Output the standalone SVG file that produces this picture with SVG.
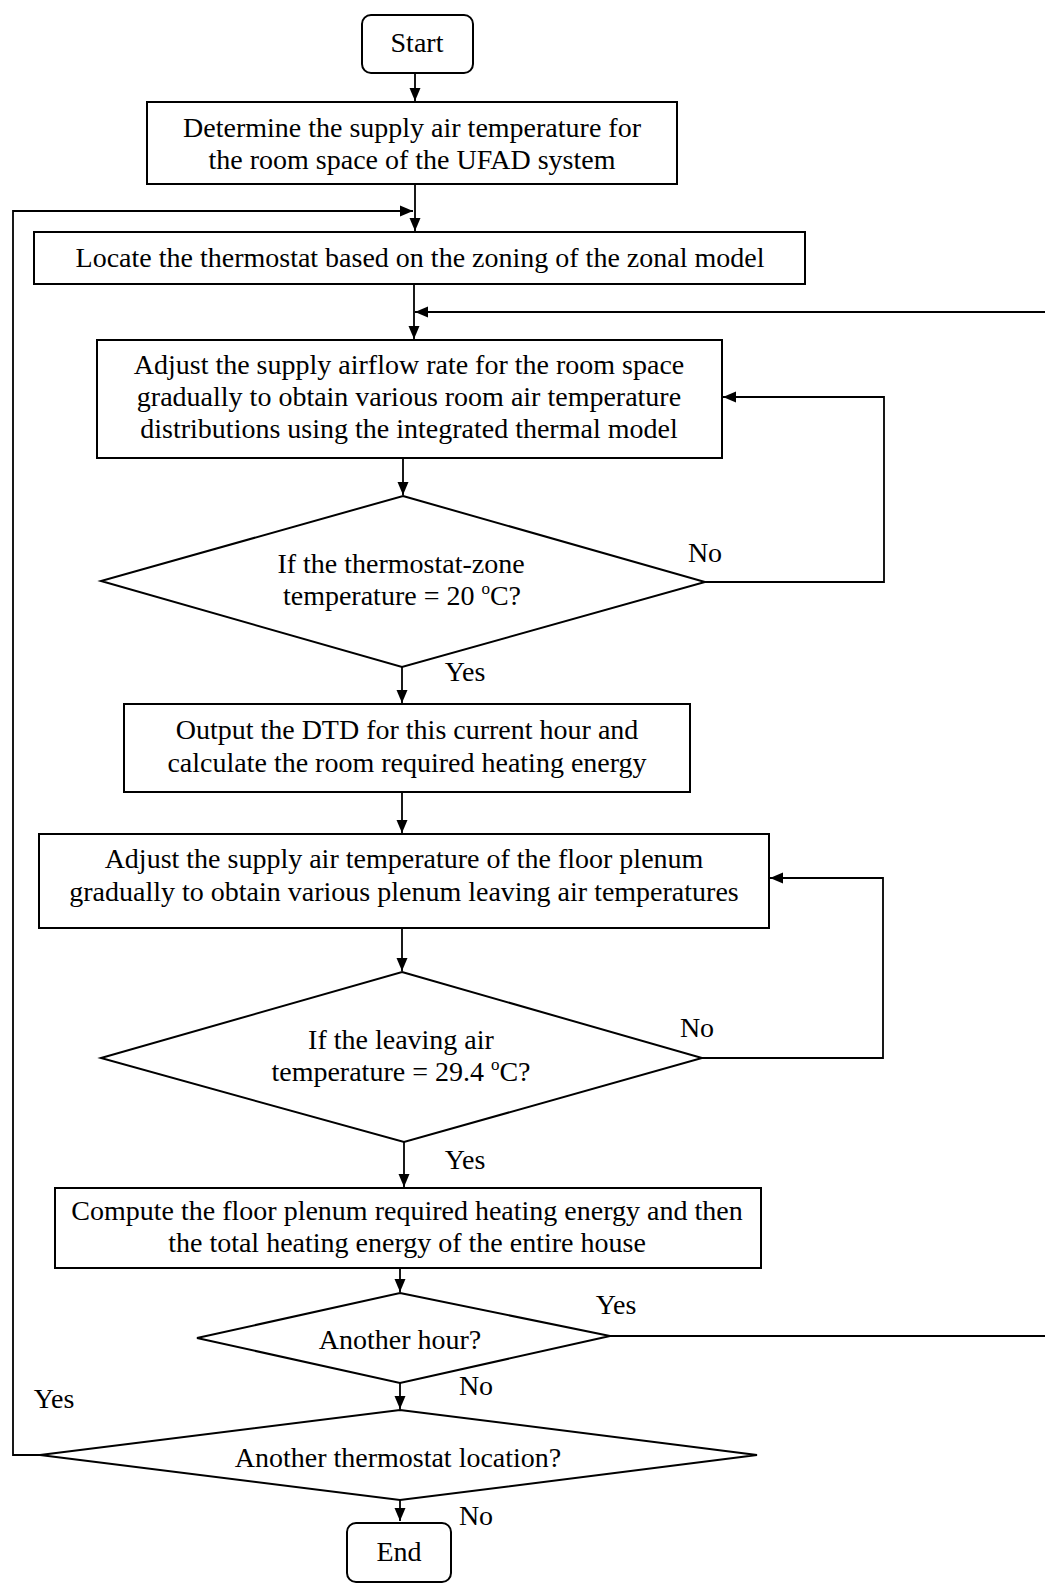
<svg xmlns="http://www.w3.org/2000/svg" width="1045" height="1585" viewBox="0 0 1045 1585">
<style>
.box{fill:#fff;stroke:#000;stroke-width:2}
.ln{fill:none;stroke:#000;stroke-width:1.8}
.t{font-family:"Liberation Serif","Times New Roman",serif;font-size:28px;fill:#000;text-anchor:middle}
.lb{font-family:"Liberation Serif","Times New Roman",serif;font-size:28px;fill:#000;text-anchor:middle}
</style>
<defs>
<marker id="ah" markerUnits="userSpaceOnUse" markerWidth="14" markerHeight="12" refX="13" refY="6" orient="auto">
<path d="M0,0.5 L13,6 L0,11.5 Z" fill="#000"/>
</marker>
</defs>
<rect width="1045" height="1585" fill="#fff"/>
<g id="connectors">
<path class="ln" d="M415 73 V101" marker-end="url(#ah)"/>
<path class="ln" d="M415 184 V231" marker-end="url(#ah)"/>
<path class="ln" d="M40 1455 H13 V211 H413" marker-end="url(#ah)"/>
<path class="ln" d="M414 284 V339" marker-end="url(#ah)"/>
<path class="ln" d="M1045 312 H415" marker-end="url(#ah)"/>
<path class="ln" d="M403 458 V495" marker-end="url(#ah)"/>
<path class="ln" d="M705 582 H884 V397 H723" marker-end="url(#ah)"/>
<path class="ln" d="M402 667 V703" marker-end="url(#ah)"/>
<path class="ln" d="M402 792 V833" marker-end="url(#ah)"/>
<path class="ln" d="M402 928 V971" marker-end="url(#ah)"/>
<path class="ln" d="M702 1058 H883 V878 H770" marker-end="url(#ah)"/>
<path class="ln" d="M404 1142 V1187" marker-end="url(#ah)"/>
<path class="ln" d="M400 1268 V1292" marker-end="url(#ah)"/>
<path class="ln" d="M610 1336 H1045"/>
<path class="ln" d="M400 1382 V1409" marker-end="url(#ah)"/>
<path class="ln" d="M400 1500 V1521" marker-end="url(#ah)"/>
</g>
<g id="start">
<rect class="box" x="362" y="15" width="111" height="58" rx="9"/>
<text class="t" x="417" y="52">Start</text>
</g>
<g id="box1">
<rect class="box" x="147" y="102" width="530" height="82"/>
<text class="t" x="412" y="137">Determine the supply air temperature for</text>
<text class="t" x="412" y="169">the room space of the UFAD system</text>
</g>
<g id="box2">
<rect class="box" x="34" y="232" width="771" height="52"/>
<text class="t" x="420" y="267">Locate the thermostat based on the zoning of the zonal model</text>
</g>
<g id="box3">
<rect class="box" x="97" y="340" width="625" height="118"/>
<text class="t" x="409" y="374">Adjust the supply airflow rate for the room space</text>
<text class="t" x="409" y="406">gradually to obtain various room air temperature</text>
<text class="t" x="409" y="438">distributions using the integrated thermal model</text>
</g>
<g id="decision1">
<polygon class="box" points="403,496 705,582 402,667 101,581"/>
<text class="t" x="401" y="573">If the thermostat-zone</text>
<text class="t" x="402" y="605">temperature = 20 <tspan font-size="17" dy="-11">o</tspan><tspan dy="11">C?</tspan></text>
<text class="lb" x="705" y="562">No</text>
<text class="lb" x="465" y="681">Yes</text>
</g>
<g id="box4">
<rect class="box" x="124" y="704" width="566" height="88"/>
<text class="t" x="407" y="739">Output the DTD for this current hour and</text>
<text class="t" x="407" y="772">calculate the room required heating energy</text>
</g>
<g id="box5">
<rect class="box" x="39" y="834" width="730" height="94"/>
<text class="t" x="404" y="868">Adjust the supply air temperature of the floor plenum</text>
<text class="t" x="404" y="901">gradually to obtain various plenum leaving air temperatures</text>
</g>
<g id="decision2">
<polygon class="box" points="402,972 702,1058 404,1142 101,1058"/>
<text class="t" x="401" y="1049">If the leaving air</text>
<text class="t" x="401" y="1081">temperature = 29.4 <tspan font-size="17" dy="-11">o</tspan><tspan dy="11">C?</tspan></text>
<text class="lb" x="697" y="1037">No</text>
<text class="lb" x="465" y="1169">Yes</text>
</g>
<g id="box6">
<rect class="box" x="55" y="1188" width="706" height="80"/>
<text class="t" x="407" y="1220">Compute the floor plenum required heating energy and then</text>
<text class="t" x="407" y="1252">the total heating energy of the entire house</text>
</g>
<g id="decision3">
<polygon class="box" points="400,1293 610,1336 400,1383 197,1338"/>
<text class="t" x="400" y="1349">Another hour?</text>
<text class="lb" x="616" y="1314">Yes</text>
<text class="lb" x="476" y="1395">No</text>
</g>
<g id="decision4">
<polygon class="box" points="400,1410 757,1455 400,1500 40,1455"/>
<text class="t" x="398" y="1467">Another thermostat location?</text>
<text class="lb" x="54" y="1408">Yes</text>
<text class="lb" x="476" y="1525">No</text>
</g>
<g id="end">
<rect class="box" x="347" y="1523" width="104" height="59" rx="9"/>
<text class="t" x="399" y="1561">End</text>
</g>
</svg>
